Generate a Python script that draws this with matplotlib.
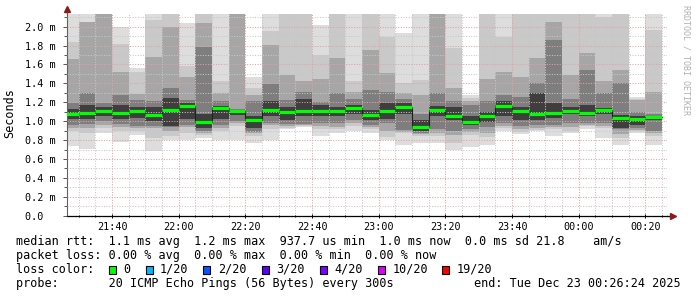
import matplotlib
matplotlib.use('Agg')
import matplotlib.pyplot as plt
from matplotlib.ticker import MultipleLocator, FixedLocator
from matplotlib.patches import Rectangle

# 5 minute columns, start time of each one
times = ['21:25', '21:30', '21:35', '21:40', '21:45', '21:50', '21:55', '22:00', '22:05',
         '22:10', '22:15', '22:20', '22:25', '22:30', '22:35', '22:40', '22:45', '22:50',
         '22:55', '23:00', '23:05', '23:10', '23:15', '23:20', '23:25', '23:30', '23:35',
         '23:40', '23:45', '23:50', '23:55', '00:00', '00:05', '00:10', '00:15', '00:20']

# rtt in ms
median = [1.073, 1.084, 1.108, 1.084, 1.105, 1.062, 1.122, 1.161, 0.996, 1.136,
          1.108, 1.009, 1.122, 1.094, 1.111, 1.108, 1.108, 1.140,
          1.062, 1.111, 1.153, 0.939, 1.122, 1.052, 0.988, 1.052, 1.161, 1.108,
          1.073, 1.084, 1.111, 1.084, 1.122, 1.034, 1.027, 1.041]

# smoke: nested ping ranges, outermost first
p_max = [2.3, 2.3, 2.3, 2.0, 1.56, 2.3, 2.3, 2.04, 2.3, 2.3,
         2.3, 1.47, 2.3, 2.3, 2.3, 2.02, 2.3, 2.3,
         2.3, 2.3, 1.93, 2.3, 2.3, 2.3, 1.28, 2.3, 2.3, 2.3,
         2.3, 2.3, 2.3, 2.3, 2.3, 2.3, 1.26, 2.3]
hi2 = [1.84, 2.05, 2.3, 1.82, 1.52, 2.07, 2.3, 1.58, 2.3, 1.42,
       2.3, 1.35, 1.95, 2.3, 2.3, 1.70, 2.3, 1.42,
       2.3, 1.89, 1.40, 1.44, 2.3, 1.77, 1.25, 2.3, 1.89, 2.3,
       2.3, 2.3, 2.3, 2.3, 2.1, 2.3, 1.23, 1.97]
hi3 = [1.66, 2.05, 2.3, 1.52, 1.29, 1.68, 2.0, 1.47, 2.04, 1.30,
       2.3, 1.28, 1.81, 1.49, 1.42, 1.45, 1.67, 1.31,
       1.75, 1.51, 1.30, 1.28, 2.3, 1.35, 1.21, 1.45, 1.52, 1.47,
       1.67, 2.05, 1.49, 1.72, 1.43, 1.54, 1.22, 1.31]
hi4 = [1.19, 1.30, 1.19, 1.28, 1.22, 1.21, 1.35, 1.22, 1.79, 1.21,
       1.13, 1.21, 1.39, 1.22, 1.31, 1.20, 1.30, 1.23,
       1.33, 1.31, 1.23, 1.08, 1.30, 1.21, 1.17, 1.21, 1.28, 1.26,
       1.40, 1.86, 1.24, 1.54, 1.30, 1.40, 1.10, 1.08]
hi5 = [1.13, 1.17, 1.15, 1.17, 1.15, 1.15, 1.25, 1.19, 1.08, 1.16,
       1.12, 1.05, 1.21, 1.15, 1.24, 1.17, 1.15, 1.17,
       1.12, 1.19, 1.19, 1.01, 1.16, 1.15, 1.05, 1.10, 1.21, 1.15,
       1.30, 1.19, 1.15, 1.17, 1.14, 1.07, 1.06, 1.06]
lo5 = [1.02, 1.02, 1.05, 1.02, 1.03, 1.00, 0.95, 1.02, 0.93, 1.02,
       1.07, 0.93, 1.05, 1.01, 1.05, 1.05, 1.05, 1.08,
       1.01, 1.02, 1.08, 0.90, 1.05, 1.01, 0.96, 0.99, 1.05, 1.01,
       1.01, 1.03, 1.08, 1.05, 1.08, 0.93, 0.96, 1.01]
lo4 = [0.96, 0.97, 1.00, 0.97, 0.95, 0.95, 0.94, 0.96, 0.90, 0.96,
       1.00, 0.89, 0.98, 0.97, 0.97, 0.98, 0.98, 1.01,
       0.96, 0.98, 0.91, 0.87, 0.92, 0.90, 0.92, 0.94, 0.98, 0.95,
       0.96, 0.96, 0.98, 0.98, 0.98, 0.92, 0.93, 0.90]
lo3 = [0.93, 0.93, 0.96, 0.94, 0.93, 0.93, 0.90, 0.94, 0.87, 0.93,
       0.98, 0.87, 0.96, 0.95, 0.96, 0.95, 0.94, 0.98,
       0.94, 0.90, 0.89, 0.86, 0.88, 0.85, 0.89, 0.88, 0.95, 0.92,
       0.93, 0.94, 0.94, 0.96, 0.95, 0.86, 0.91, 0.87]
lo2 = [0.90, 0.88, 0.93, 0.90, 0.90, 0.82, 0.84, 0.87, 0.85, 0.90,
       0.95, 0.84, 0.92, 0.93, 0.95, 0.92, 0.92, 0.95,
       0.92, 0.83, 0.87, 0.84, 0.84, 0.77, 0.85, 0.83, 0.93, 0.89,
       0.91, 0.92, 0.90, 0.95, 0.93, 0.82, 0.90, 0.84]
p_min = [0.74, 0.71, 0.87, 0.78, 0.85, 0.68, 0.80, 0.80, 0.82, 0.80,
         0.80, 0.77, 0.80, 0.92, 0.94, 0.84, 0.87, 0.90,
         0.87, 0.80, 0.75, 0.77, 0.77, 0.70, 0.73, 0.75, 0.90, 0.86,
         0.90, 0.84, 0.88, 0.92, 0.82, 0.75, 0.87, 0.75]

xticks = [40, 60, 80, 100, 120, 140, 160, 180, 200]
xticklabels = ['21:40', '22:00', '22:20', '22:40', '23:00', '23:20', '23:40', '00:00', '00:20']

loss_labels = ['0', '1/20', '2/20', '3/20', '4/20', '10/20', '19/20']
loss_colors = ['#00ff00', '#00b8ff', '#0059ff', '#5e00ff', '#7e00ff', '#dd00ff', '#ff0000']

mono = 'DejaVu Sans Mono'
W, H = 697, 297


def tmin(s):
    h, m = map(int, s.split(':'))
    if h < 12:
        h += 24
    return (h - 21) * 60 + m


x0 = [tmin(t) for t in times]

fig = plt.figure(figsize=(W / 100, H / 100), dpi=100)
ax = fig.add_axes([66.7 / W, 1 - 215.7 / H, 600 / W, 201.4 / H])

bands = [(p_min, p_max, '#dddddd'), (lo2, hi2, '#c9c9c9'), (lo3, hi3, '#a6a6a6'),
         (lo4, hi4, '#7e7e7e'), (lo5, hi5, '#3e3e3e')]
for lo, hi, c in bands:
    ax.bar(x0, [h - l for h, l in zip(hi, lo)], bottom=lo, width=5, align='edge',
           color=c, linewidth=0, zorder=1)

ax.step(x0 + [x0[-1] + 5], median + [median[-1]], where='post', color='#202020',
        lw=0.8, zorder=3)
ax.hlines(median, x0, [x + 5 for x in x0], colors='#00ff00', lw=2.3, zorder=4)

ax.set_xlim(26.4, 206.4)
ax.set_ylim(0, 2.131)

ax.xaxis.set_major_locator(FixedLocator(xticks))
ax.xaxis.set_minor_locator(MultipleLocator(5))
ax.set_xticklabels(xticklabels)
ax.yaxis.set_major_locator(MultipleLocator(0.2))
ax.yaxis.set_minor_locator(MultipleLocator(0.1))
yt = [i * 0.2 for i in range(11)]
ax.set_yticks(yt)
ax.set_yticklabels(['0.0  '] + ['%.1f m' % v for v in yt[1:]])

ax.set_axisbelow(False)
ax.grid(which='major', color='#e8a0a0', linestyle=(0, (1, 1.5)), lw=0.75)
ax.grid(which='minor', color='#c8c8c8', linestyle=(0, (1, 1.5)), lw=0.75)

for lab in ax.get_xticklabels() + ax.get_yticklabels():
    lab.set_fontfamily(mono)
    lab.set_fontsize(7.3)
ax.tick_params(axis='y', which='major', length=3, width=0.7, pad=5, color='#555555')
ax.tick_params(axis='y', which='minor', length=2, width=0.7, color='#555555')
ax.tick_params(axis='x', which='major', length=3, width=0.7, pad=3, direction='inout')
ax.tick_params(axis='x', which='minor', length=2, width=0.7, direction='inout')

for s in ['top', 'right']:
    ax.spines[s].set_visible(False)
ax.spines['left'].set_color('#606060')
ax.spines['left'].set_linewidth(0.8)
ax.spines['bottom'].set_linewidth(0.9)

# axis extensions and arrows
ax.plot([0, 0], [1, 1.02], transform=ax.transAxes, color='#606060', lw=0.8, clip_on=False)
ax.plot([0], [1.028], transform=ax.transAxes, marker='^', ms=4.5, color='#8b1a1a',
        clip_on=False)
ax.plot([1, 1.007], [0, 0], transform=ax.transAxes, color='black', lw=0.9, clip_on=False)
ax.plot([1.01], [0], transform=ax.transAxes, marker='>', ms=4.5, color='#8b1a1a',
        clip_on=False)

fig.text(10 / W, 1 - 113 / H, 'Seconds', rotation=90, ha='center', va='center',
         family=mono, fontsize=8.5)
fig.text(686 / W, 1 - 5 / H, 'RRDTOOL / TOBI OETIKER', rotation=270, ha='center',
         va='top', family=mono, fontsize=6, color='#b0b0b0')

def line(y, s, x=16, ha='left'):
    fig.text(x / W, 1 - y / H, s, ha=ha, va='center', family=mono, fontsize=8.5)

line(241.7, 'median rtt:  1.1 ms avg  1.2 ms max  937.7 us min  1.0 ms now  0.0 ms sd 21.8    am/s')
line(255.7, 'packet loss: 0.00 % avg  0.00 % max  0.00 % min  0.00 % now')
line(269.3, 'loss color:')
line(283.3, 'probe:       20 ICMP Echo Pings (56 Bytes) every 300s')
line(283.3, 'end: Tue Dec 23 00:26:24 2025', x=681, ha='right')

box_x = [109, 145.7, 203.3, 261.7, 320, 377.7, 441.7]
txt_x = [123.3, 160, 218.3, 276, 334.5, 392.3, 456.7]
for bx, tx, lab, c in zip(box_x, txt_x, loss_labels, loss_colors):
    fig.patches.append(Rectangle((bx / W, 1 - 273.5 / H), 7 / W, 8 / H, facecolor=c,
                                 edgecolor='black', lw=0.8, transform=fig.transFigure))
    line(269.3, lab, x=tx)

fig.savefig('out.png', dpi=100)
